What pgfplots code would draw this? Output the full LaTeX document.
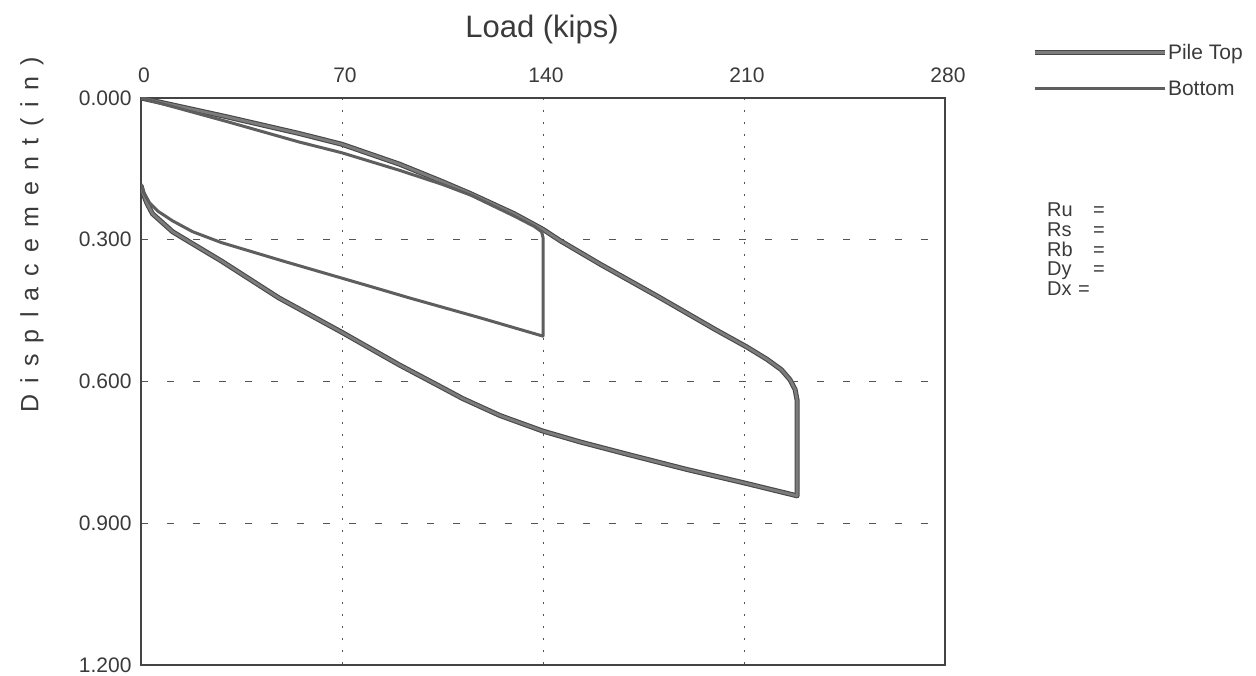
\documentclass[border=0pt]{standalone}
\usepackage{pgfplots}
\pgfplotsset{compat=1.18}
\usepackage{fontspec}
\setmainfont{Liberation Sans}
\definecolor{txt}{HTML}{3A3A3A}
\definecolor{ax}{HTML}{444444}
\definecolor{grd}{HTML}{555555}
\definecolor{edge}{HTML}{484848}
\definecolor{fillc}{HTML}{7C7C7C}
\definecolor{thinc}{HTML}{5E5E5E}
\newcommand\ls{\hspace{11.2pt}}
\begin{document}
\begin{tikzpicture}[x=1pt,y=1pt]
\useasboundingbox (0,0) rectangle (1256,676);
\begin{axis}[
  at={(141pt,11pt)}, anchor=south west,
  scale only axis, width=804pt, height=567pt,
  xmin=0, xmax=280, ymin=0, ymax=1.2, y dir=reverse,
  xtick={0,70,140,210,280}, ytick={0,0.3,0.6,0.9,1.2},
  xticklabel pos=top,
  major tick length=0pt,
  grid=major,
  x grid style={grd, line width=0.8pt, dash pattern=on 2pt off 10pt},
  y grid style={grd, line width=0.8pt, dash pattern=on 7pt off 19pt},
  axis line style={ax, line width=1.4pt},
  /pgf/number format/assume math mode=true,
  ticklabel style={font=\fontsize{21}{25}\selectfont, text=txt},
  yticklabel style={/pgf/number format/fixed, /pgf/number format/fixed zerofill, /pgf/number format/precision=3, xshift=-6pt, inner ysep=1pt},
  xticklabel style={yshift=12pt, xshift=3pt},
  legend image code/.code={\draw[#1] (0pt,0pt) -- (130pt,0pt);},
  legend style={at={(axis description cs:1.108,1.097)}, anchor=north west,
    draw=none, fill=none, font=\fontsize{21}{25}\selectfont, text=txt,
    row sep=18pt, inner sep=0pt, nodes={inner sep=1pt}},
  legend cell align=left,
]
\addplot[edge, line width=1.1pt, double=fillc, double distance=2.8pt, line join=round] coordinates {
 (0,0) (30,0.04) (55,0.075) (70,0.098) (90,0.140) (105,0.177) (115,0.203)
 (130,0.245) (140,0.278) (146,0.302) (160,0.352) (180,0.420) (200,0.490)
 (211,0.527) (218,0.553) (223,0.575) (226,0.596) (227.8,0.617) (228.5,0.640)
 (228.5,0.842) (211,0.816) (190,0.786) (170,0.755) (153,0.728) (140,0.705)
 (125,0.672) (112,0.636) (104,0.610) (90,0.565) (70,0.496) (48,0.423)
 (28,0.345) (17,0.305) (11,0.283) (4,0.245) (2,0.222) (0.8,0.203) (0,0.185)
};
\addlegendentry{Pile Top}
\addplot[thinc, line width=3pt, line join=round] coordinates {
 (0,0) (30,0.050) (55,0.093) (70,0.116) (90,0.153) (105,0.183) (115,0.206)
 (130,0.250) (137,0.272) (139.5,0.283) (140,0.295) (140,0.504)
 (118,0.465) (94,0.424) (80,0.399) (50,0.346) (28,0.306) (18,0.283)
 (11,0.260) (6,0.240) (3,0.222) (1,0.200) (0,0.182)
};
\addlegendentry{Bottom}
\end{axis}
\node[anchor=base, font=\fontsize{31}{37}\selectfont, text=txt] at (542,638) {Load (kips)};
\node[rotate=90, font=\fontsize{25}{30}\selectfont, text=txt] at (32,441)
  {D\ls i\ls s\ls p\ls l\ls a\ls c\ls e\ls m\ls e\ls n\ls t\ls (\ls i\ls n\ls )};
\begin{scope}[every node/.style={anchor=base west, inner sep=0pt, font=\fontsize{20}{24}\selectfont, text=txt}]
\node at (1047,459) {Ru}; \node at (1093,459) {=};
\node at (1047,439) {Rs}; \node at (1093,439) {=};
\node at (1047,419) {Rb}; \node at (1093,419) {=};
\node at (1047,400) {Dy}; \node at (1093,400) {=};
\node at (1047,380) {Dx}; \node at (1078,380) {=};
\end{scope}
\end{tikzpicture}
\end{document}
